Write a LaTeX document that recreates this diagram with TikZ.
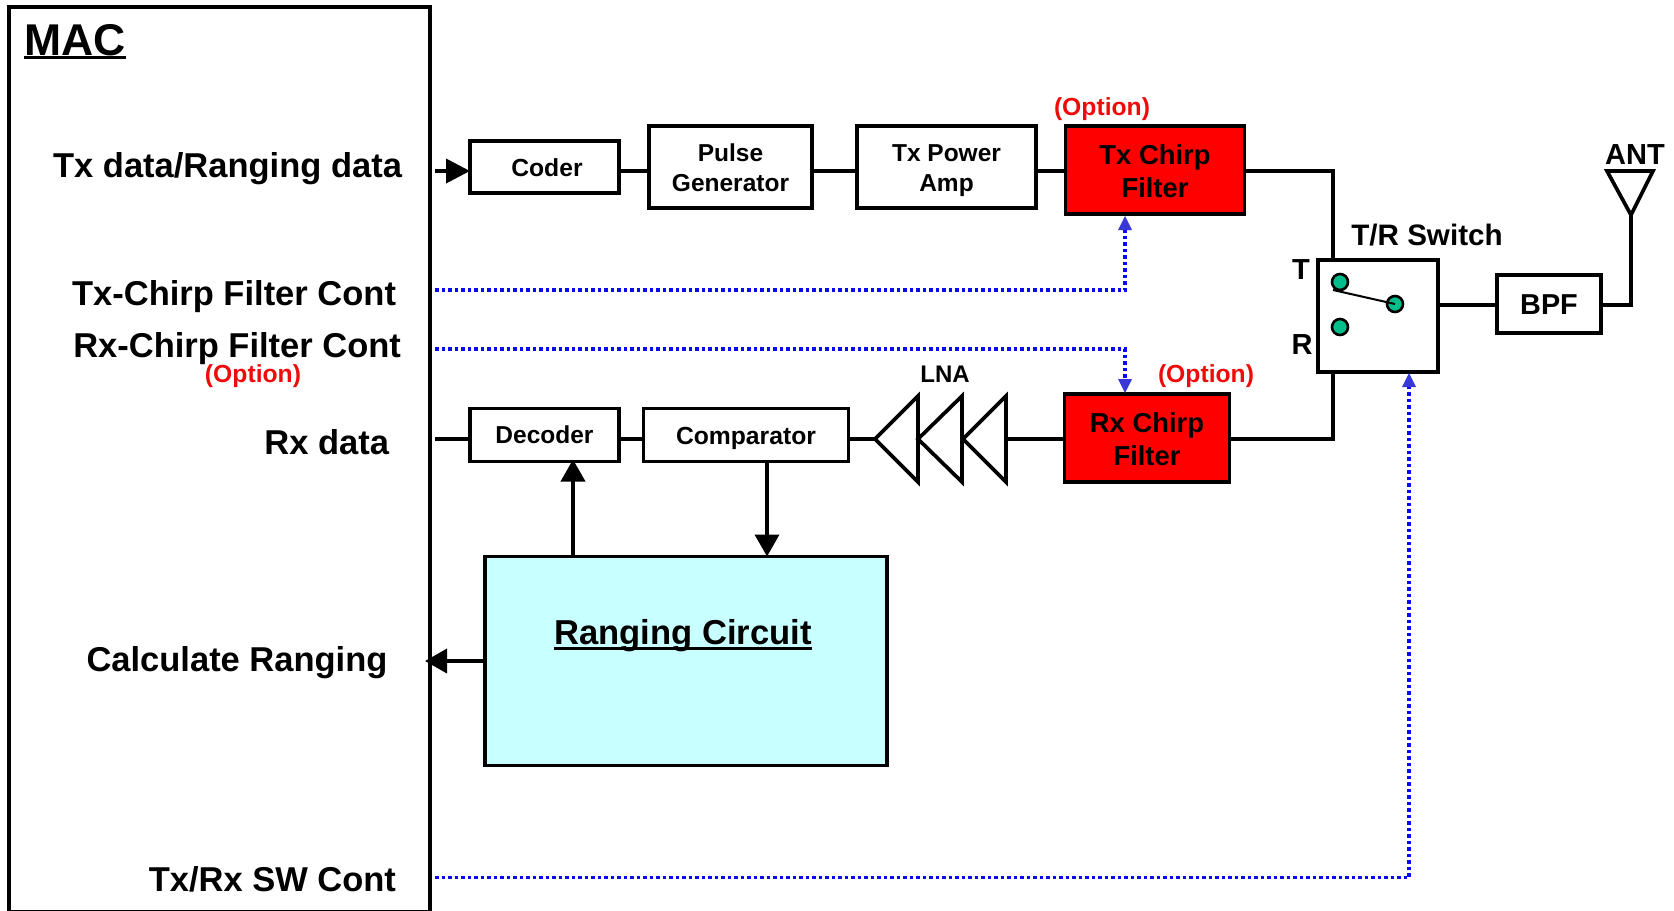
\documentclass[tikz,border=0pt]{standalone}
\usepackage{fontspec}
\setmainfont{Liberation Sans}
\usetikzlibrary{arrows.meta}
\definecolor{opt}{RGB}{240,10,10}
\definecolor{ctl}{RGB}{10,10,240}
\definecolor{ctlhead}{RGB}{56,56,216}
\definecolor{rng}{RGB}{200,255,255}
\definecolor{dot}{RGB}{0,190,140}
\newcommand\fs[2]{\fontsize{#1}{#2}\selectfont\bfseries}
\newcommand\myul[3]{\setbox0\hbox{#3}\rlap{\vrule width\wd0 height\dimexpr-#2+#1\relax depth\dimexpr#2\relax}\box0}
\newcommand\topup[1]{\rule{0pt}{#1}}
\tikzset{
  bx/.style={draw=black,line width=3.7pt,inner sep=0pt,outer sep=0pt,align=center,fill=white},
  redbx/.style={bx,fill=red},
  lab/.style={inner sep=0pt,outer sep=0pt,anchor=base east,font=\fs{34.5}{38}},
  txt/.style={inner sep=0pt,outer sep=0pt,align=center},
  optlab/.style={txt,text=opt,font=\fs{24.7}{28}},
  wire/.style={line width=3.7pt,line cap=round,line join=miter},
  bigarrow/.style={wire,line cap=butt,-{Triangle[length=22pt,width=24pt]}},
  ctlline/.style={line width=3.5pt,draw=ctl,dash pattern=on 3.5pt off 3pt},
  ctlarrow/.style={ctlhead},
  dotn/.style={circle,draw=black,line width=2.6pt,fill=dot,minimum size=16pt,inner sep=0pt,outer sep=0pt},
}
\begin{document}
\begin{tikzpicture}[x=1pt,y=-1pt]
\useasboundingbox (0,0) rectangle (1674,910.6);
% MAC
\node[bx,fill=none,minimum width=421pt,minimum height=904.5pt,anchor=north west] (mac) at (9,7) {};
\node[inner sep=0pt,anchor=base west,font=\fs{44.5}{48}] (mactitle) at (24,55) {\myul{3pt}{4pt}{MAC}};
\node[lab] (l1) at (402,177) {Tx data/Ranging data};
\node[lab] (l2) at (396,305) {Tx-Chirp Filter Cont};
\node[lab] (l3) at (401,357) {Rx-Chirp Filter Cont};
\node[optlab] (o3) at (253,376) {(Option)};
\node[lab] (l4) at (389,454) {Rx data};
\node[lab] (l5) at (387.5,671) {Calculate Ranging};
\node[lab] (l6) at (396,891) {Tx/Rx SW Cont};
% TX chain
\node[bx,minimum width=149pt,minimum height=52pt,font=\fs{24.7}{30}] (coder) at (544.5,167) {\hspace*{5pt}\topup{20pt}Coder};
\node[bx,minimum width=163pt,minimum height=82pt,font=\fs{24.5}{30}] (pulse) at (730.5,167) {\topup{20pt}Pulse\\Generator};
\node[bx,minimum width=179pt,minimum height=82pt,font=\fs{24.5}{30}] (pa) at (946.5,167) {\topup{25pt}Tx Power\\Amp};
\node[redbx,minimum width=179pt,minimum height=88pt,font=\fs{27.4}{33}] (txf) at (1155,170) {\topup{22pt}Tx Chirp\\Filter};
\node[optlab] (o1) at (1102,109) {(Option)};
% RX chain
\node[bx,minimum width=149pt,minimum height=53pt,font=\fs{24.5}{30}] (dec) at (544.5,435) {Decoder};
\node[bx,minimum width=205pt,minimum height=53pt,font=\fs{24.7}{30}] (cmp) at (746,435) {\topup{25pt}Comparator};
\node[redbx,minimum width=165pt,minimum height=88pt,font=\fs{27.4}{33}] (rxf) at (1147,438) {\topup{22pt}Rx Chirp\\Filter};
\node[optlab] (o2) at (1206,376) {(Option)};
\node[txt,font=\fs{24}{28}] (lna) at (945,374) {LNA};
% Switch, BPF, antenna
\node[bx,minimum width=120pt,minimum height=112pt] (sw) at (1378,316) {};
\node[txt,font=\fs{29.6}{32}] (swl) at (1427,235) {T/R Switch};
\node[txt,font=\fs{29}{32}] (tl) at (1301,270) {T};
\node[txt,font=\fs{29}{32}] (rl) at (1302,345) {R};
\node[bx,minimum width=104pt,minimum height=58pt,font=\fs{28.8}{32}] (bpf) at (1549,304) {\topup{21pt}BPF};
\node[txt,font=\fs{29}{32}] (ant) at (1635,155) {ANT};
% Ranging
\node[bx,fill=rng,minimum width=402pt,minimum height=209pt] (rc) at (686,661) {};
\node[txt,font=\fs{34.6}{40}] (rct) at (683,636) {\myul{3pt}{5pt}{Ranging Circuit}};
% rows
\coordinate (rowt) at (0,171);
\coordinate (rowr) at (0,439);
\coordinate (rowb) at (0,305);
% MAC to coder
\coordinate (txs) at (435,171);
\draw[bigarrow,-{Triangle[length=24pt,width=24pt]}] (txs) -- (coder.west|-rowt);
% TX wires
\draw[wire] (coder.east|-rowt) -- (pulse.west|-rowt);
\draw[wire] (pulse.east|-rowt) -- (pa.west|-rowt);
\draw[wire] (pa.east|-rowt) -- (txf.west|-rowt);
\coordinate (tj) at (1333,171);
\coordinate (rj) at (1333,439);
\draw[wire] (txf.east|-rowt) -- (tj) -- (tj|-sw.north);
\draw[wire] (rxf.east|-rowr) -- (rj) -- (rj|-sw.south);
\draw[wire] (sw.east|-rowb) -- (bpf.west|-rowb);
% antenna
\coordinate (apex) at (1631,215);
\coordinate (antl) at (1607,171);
\coordinate (antr) at (1653,171);
\draw[wire,line cap=butt,line join=miter] (antl) -- (antr) -- (apex) -- cycle;
\draw[wire,line cap=butt] (bpf.east|-rowb) -- (apex|-rowb) -- (apex);
% LNA
\coordinate (a1t) at (875,439);
\coordinate (a2t) at (918,439);
\coordinate (a3t) at (963,439);
\coordinate (a3b) at (1006,439);
\draw[wire] (a1t) -- (918,396) -- (918,482) -- cycle;
\draw[wire] (a2t) -- (962,396) -- (962,482) -- cycle;
\draw[wire] (a3t) -- (a3b|-0,396) -- (a3b|-0,482) -- cycle;
\draw[wire,line cap=butt] (dec.west|-rowr) -- (435,439);
\draw[wire,line cap=butt] (dec.east|-rowr) -- (cmp.west|-rowr);
\draw[wire,line cap=butt] (cmp.east|-rowr) -- (a1t);
\draw[wire,line cap=butt] (a3b) -- (rxf.west|-rowr);
% switch contacts
\node[dotn] (c1) at (1340,282) {};
\node[dotn] (c2) at (1395,304) {};
\node[dotn] (c3) at (1340,327) {};
\draw[line width=2pt] (1333,290) -- (c2.center);
% Ranging arrows
\draw[bigarrow,shorten >=-2pt] (rc.north-|573,0) -- (dec.south-|573,0);
\draw[bigarrow] (cmp.south-|767,0) -- (rc.north-|767,0);
\draw[bigarrow] (rc.west|-0,661) -- (425,661);
% control lines
\coordinate (c1s) at (435,290);
\coordinate (c1k) at (1125,290);
\coordinate (c2s) at (435,349);
\coordinate (c2k) at (1125,349);
\coordinate (c3s) at (435,877.5);
\coordinate (c3k) at (1409,877.5);
\draw[ctlline] (c1s) -- (c1k) -- (1125,226);
\fill[ctlarrow] (1125,216) -- (1132,230) -- (1118,230) -- cycle;
\draw[ctlline] (c2s) -- (c2k) -- (1125,384);
\fill[ctlarrow] (1125,393) -- (1132,379) -- (1118,379) -- cycle;
\draw[ctlline] (c3s) -- (c3k) -- (1409,382);
\fill[ctlarrow] (1409,373) -- (1416,387) -- (1402,387) -- cycle;
\end{tikzpicture}
\end{document}
